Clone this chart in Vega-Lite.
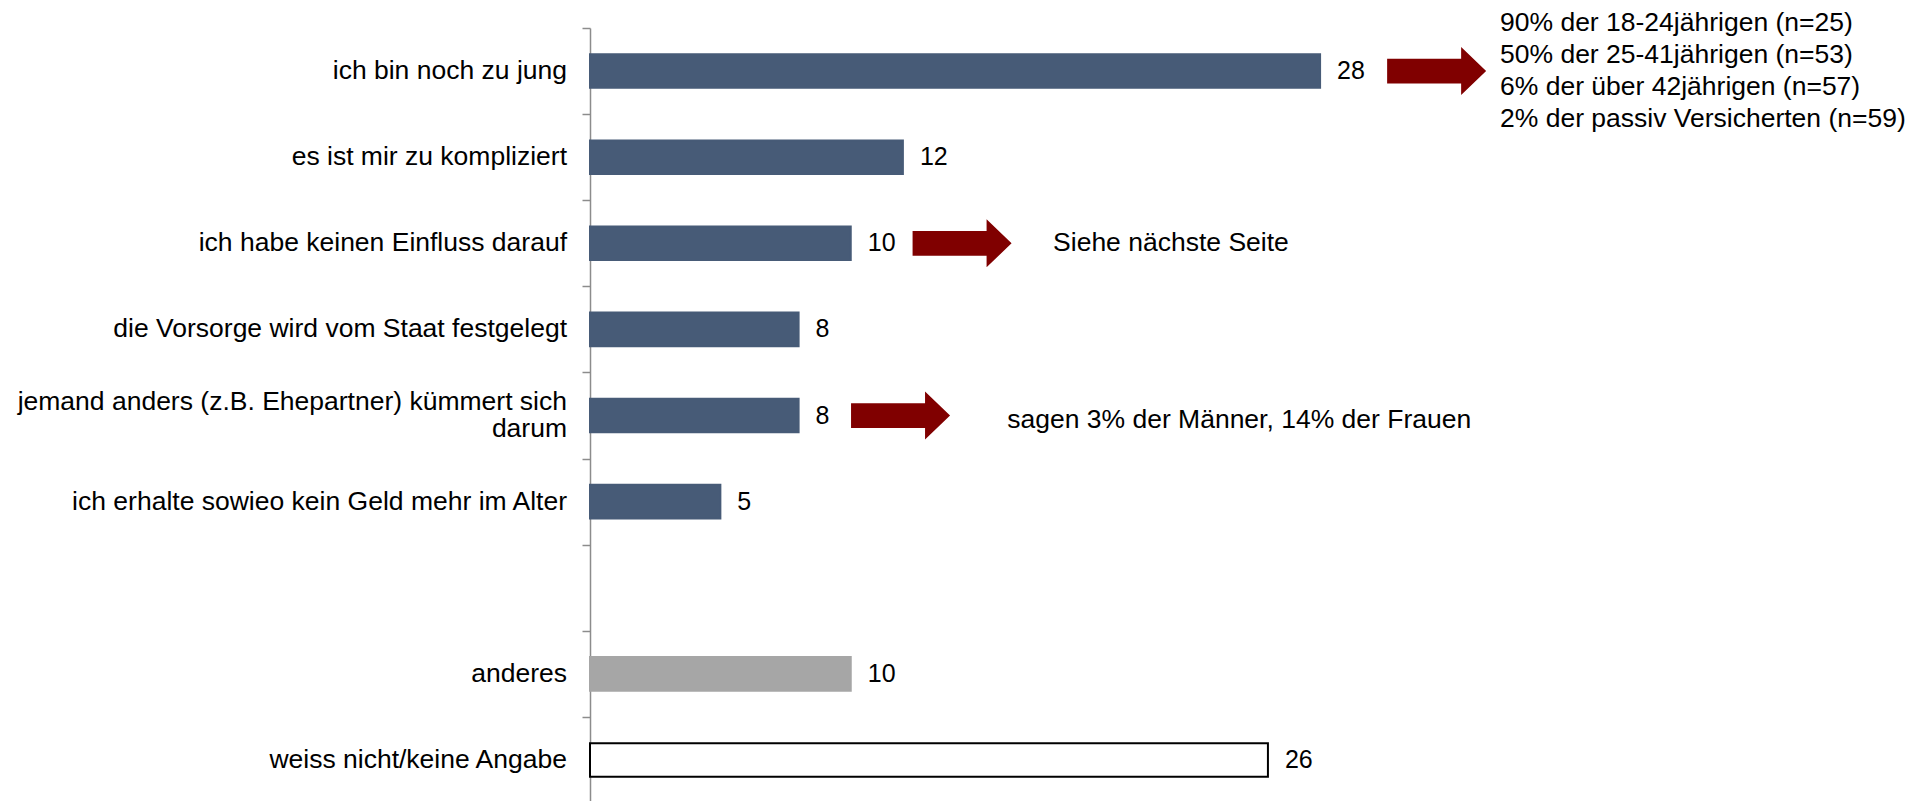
{
  "$schema": "https://vega.github.io/schema/vega-lite/v6.json",
  "width": 1335,
  "height": 775,
  "autosize": {"type": "none"},
  "padding": {"left": 590, "top": 28, "right": 0, "bottom": 0},
  "background": "#ffffff",
  "config": {
    "view": {"stroke": null},
    "font": "Liberation Sans",
    "text": {"font": "Liberation Sans", "fontSize": 25, "color": "#000000"}
  },
  "datasets": {
    "antworten": [
      {"kategorie": "ich bin noch zu jung", "wert": 28, "typ": "gruende"},
      {"kategorie": "es ist mir zu kompliziert", "wert": 12, "typ": "gruende"},
      {"kategorie": "ich habe keinen Einfluss darauf", "wert": 10, "typ": "gruende"},
      {"kategorie": "die Vorsorge wird vom Staat festgelegt", "wert": 8, "typ": "gruende"},
      {"kategorie": "jemand anders (z.B. Ehepartner) kümmert sich|darum", "wert": 8, "typ": "gruende"},
      {"kategorie": "ich erhalte sowieo kein Geld mehr im Alter", "wert": 5, "typ": "gruende"},
      {"kategorie": "anderes", "wert": 10, "typ": "anderes"},
      {"kategorie": "weiss nicht/keine Angabe", "wert": 26, "typ": "wn"}
    ],
    "pfeile": [
      {"kategorie": "ich bin noch zu jung", "pos": 32.47},
      {"kategorie": "ich habe keinen Einfluss darauf", "pos": 14.27},
      {"kategorie": "jemand anders (z.B. Ehepartner) kümmert sich|darum", "pos": 11.91}
    ],
    "notizen": [
      {"kategorie": "ich habe keinen Einfluss darauf", "pos": 17.76, "notiz": "Siehe nächste Seite"},
      {"kategorie": "jemand anders (z.B. Ehepartner) kümmert sich|darum", "pos": 16.0, "notiz": "sagen 3% der Männer, 14% der Frauen"}
    ],
    "altersnotiz": [
      {"kategorie": "ich bin noch zu jung", "pos": 34.9, "notiz": "90% der 18-24jährigen (n=25)|50% der 25-41jährigen (n=53)|6% der über 42jährigen (n=57)|2% der passiv Versicherten (n=59)"}
    ]
  },
  "encoding": {
    "y": {
      "field": "kategorie",
      "type": "nominal",
      "sort": null,
      "scale": {
        "domain": [
          "ich bin noch zu jung",
          "es ist mir zu kompliziert",
          "ich habe keinen Einfluss darauf",
          "die Vorsorge wird vom Staat festgelegt",
          "jemand anders (z.B. Ehepartner) kümmert sich|darum",
          "ich erhalte sowieo kein Geld mehr im Alter",
          "_",
          "anderes",
          "weiss nicht/keine Angabe"
        ],
        "paddingInner": 0,
        "paddingOuter": 0
      },
      "axis": {
        "title": null,
        "tickBand": "extent",
        "domainColor": "#8c8c8c",
        "domainWidth": 1.5,
        "tickColor": "#8c8c8c",
        "tickWidth": 1.5,
        "tickSize": 8,
        "labels": false
      }
    }
  },
  "layer": [
    {
      "data": {"name": "antworten"},
      "mark": {"type": "bar", "height": {"band": 0.39}, "strokeWidth": 2},
      "encoding": {
        "x": {"field": "wert", "type": "quantitative", "scale": {"domain": [0, 51.2], "nice": false, "zero": true}, "axis": null},
        "fill": {"field": "typ", "type": "nominal", "scale": {"domain": ["gruende", "anderes", "wn"], "range": ["#475b77", "#a6a6a6", "#ffffff"]}, "legend": null},
        "stroke": {"field": "typ", "type": "nominal", "scale": {"domain": ["gruende", "anderes", "wn"], "range": ["#475b77", "#a6a6a6", "#000000"]}, "legend": null}
      }
    },
    {
      "data": {"name": "antworten"},
      "mark": {"type": "text", "align": "left", "baseline": "middle", "dx": 17, "fontSize": 25},
      "encoding": {
        "x": {"field": "wert", "type": "quantitative"},
        "text": {"field": "wert", "type": "quantitative"}
      }
    },
    {
      "data": {"name": "antworten"},
      "transform": [{"filter": "indexof(datum.kategorie, '|') < 0"}],
      "mark": {"type": "text", "align": "right", "baseline": "middle", "dx": -23, "fontSize": 26.5},
      "encoding": {
        "x": {"datum": 0, "type": "quantitative"},
        "text": {"field": "kategorie", "type": "nominal"}
      }
    },
    {
      "data": {"name": "antworten"},
      "transform": [{"filter": "indexof(datum.kategorie, '|') >= 0"}],
      "mark": {"type": "text", "align": "right", "baseline": "middle", "dx": -23, "dy": -13.5, "fontSize": 26.5, "lineBreak": "|", "lineHeight": 27},
      "encoding": {
        "x": {"datum": 0, "type": "quantitative"},
        "text": {"field": "kategorie", "type": "nominal"}
      }
    },
    {
      "data": {"name": "pfeile"},
      "mark": {
        "type": "point",
        "shape": "M-1,-0.25L0.495,-0.25L0.495,-0.485L1,0L0.495,0.485L0.495,0.25L-1,0.25Z",
        "size": 9801,
        "filled": true,
        "opacity": 1,
        "color": "#800000",
        "strokeWidth": 0
      },
      "encoding": {
        "x": {"field": "pos", "type": "quantitative"}
      }
    },
    {
      "data": {"name": "notizen"},
      "transform": [{"filter": "indexof(datum.notiz, 'Siehe') >= 0"}],
      "mark": {"type": "text", "align": "left", "baseline": "middle", "fontSize": 26.5},
      "encoding": {
        "x": {"field": "pos", "type": "quantitative"},
        "text": {"field": "notiz", "type": "nominal"}
      }
    },
    {
      "data": {"name": "notizen"},
      "transform": [{"filter": "indexof(datum.notiz, 'Siehe') < 0"}],
      "mark": {"type": "text", "align": "left", "baseline": "middle", "fontSize": 26.5, "dy": 4},
      "encoding": {
        "x": {"field": "pos", "type": "quantitative"},
        "text": {"field": "notiz", "type": "nominal"}
      }
    },
    {
      "data": {"name": "altersnotiz"},
      "mark": {"type": "text", "align": "left", "baseline": "middle", "fontSize": 26.5, "lineBreak": "|", "lineHeight": 32, "dy": -48},
      "encoding": {
        "x": {"field": "pos", "type": "quantitative"},
        "text": {"field": "notiz", "type": "nominal"}
      }
    }
  ]
}
